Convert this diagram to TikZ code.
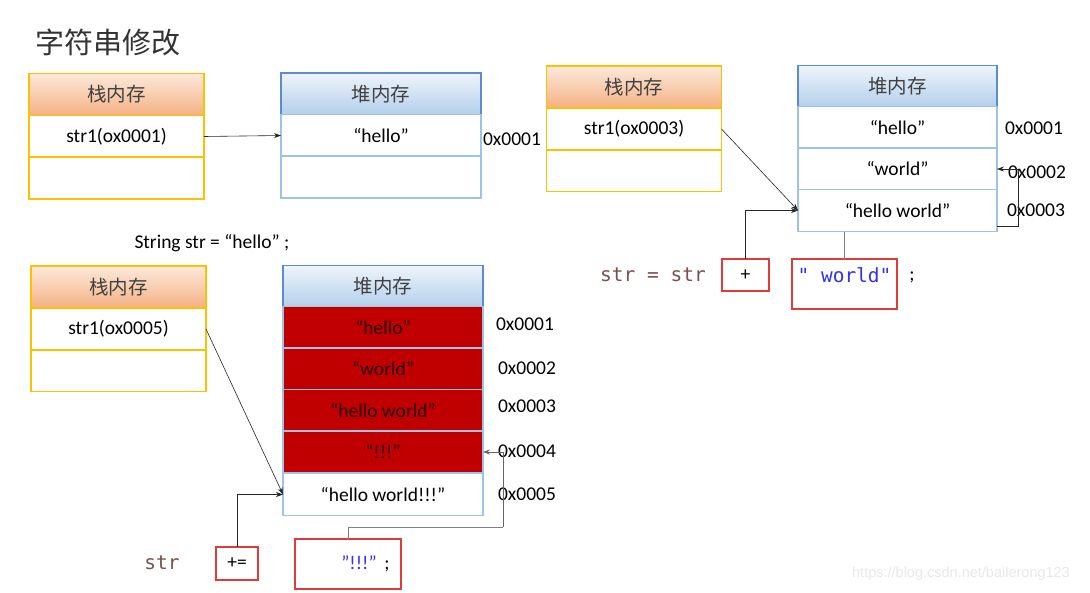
\documentclass[tikz,border=0pt]{standalone}
\usepackage{fontspec}
\setmainfont{Carlito}
\newfontfamily\cjk{Noto Sans CJK SC}
\newfontfamily\monof{DejaVu Sans Mono}
\newfontfamily\wmf{Liberation Sans}
\usetikzlibrary{arrows.meta}
\definecolor{stkc}{HTML}{FFC000}
\definecolor{stktop}{HTML}{FCE9DC}
\definecolor{stkbot}{HTML}{F4B183}
\definecolor{heapc}{HTML}{9DC3E6}
\definecolor{heaphc}{HTML}{5B8BD0}
\definecolor{heaptop}{HTML}{EEF4FB}
\definecolor{heapbot}{HTML}{B3CFEB}
\definecolor{rowred}{HTML}{C00000}
\definecolor{boxred}{HTML}{E23A3A}
\definecolor{codebrown}{RGB}{120,80,80}
\definecolor{codeblue}{RGB}{50,50,235}
\definecolor{hdtxt}{HTML}{404040}
\newcommand{\txt}{\fontsize{19.5}{23}\selectfont}
\newcommand{\hdf}{\cjk\fontsize{19.5}{23}\selectfont\color{hdtxt}}
\newcommand{\hd}[1]{\raisebox{-3pt}{#1}}
\tikzset{
  stk/.style={draw=stkc, line width=1.2pt, minimum width=175, minimum height=42, inner sep=0pt, outer sep=0pt, font=\txt},
  stkh/.style={stk, top color=stktop, bottom color=stkbot, font=\hdf},
  hp/.style={draw=heapc, line width=1.2pt, minimum width=200, minimum height=42, inner sep=0pt, outer sep=0pt, font=\txt, fill=white},
  hph/.style={hp, draw=heaphc, top color=heaptop, bottom color=heapbot, font=\hdf},
  redrow/.style={hp, fill=rowred, text=black!85!red},
  rbox/.style={draw=boxred, line width=1.2pt, inner sep=0pt, outer sep=0pt, font=\txt},
  addr/.style={font=\txt, inner sep=0pt},
  arr/.style={-{Stealth[length=7pt,width=5pt]}, line width=0.6pt, draw=black!85},
  gline/.style={line width=1pt, draw=black!50},
}
\begin{document}
\begin{tikzpicture}[x=1pt,y=-1pt]
\useasboundingbox[fill=white] (0,0) rectangle (1090,592);

% title
\node[font=\cjk\fontsize{29}{34}\selectfont, text=black!80] (title) at (108,42) {字符串修改};

% ---------- panel 1 ----------
\node[stkh] (s1h) at (116.5,94.5) {\hd{栈内存}};
\node[stk]  (s1r1) at (116.5,136.5) {str1(ox0001)};
\node[stk]  (s1r2) at (116.5,178) {};
\node[hph, minimum height=42] (h1h) at (381,94) {\hd{堆内存}};
\node[hp]  (h1r1) at (381,135.5) {“hello”};
\node[hp]  (h1r2) at (381,177) {};
\node[addr] (a11) at (512,139) {0x0001};
\draw[arr] (s1r1.east) -- (h1r1.west);

% ---------- panel 2 ----------
\node[stkh] (s2h) at (634,87) {\hd{栈内存}};
\node[stk]  (s2r1) at (634,129) {str1(ox0003)};
\node[stk]  (s2r2) at (634,170.5) {};
\node[hph, minimum width=199] (h2h) at (897.5,86.5) {\hd{堆内存}};
\node[hp, minimum width=199]  (h2r1) at (897.5,127.5) {“hello”};
\node[hp, minimum width=199]  (h2r2) at (897.5,169) {“world”};
\node[hp, minimum width=199]  (h2r3) at (897.5,210.5) {“hello world”};
\node[addr] (a21) at (1034,128) {0x0001};
\node[addr] (a22) at (1037,172) {0x0002};
\node[addr] (a23) at (1036,210) {0x0003};

\node[font=\monof\fontsize{19.5}{23}\selectfont, text=codebrown, inner sep=0pt] (c2a) at (653,275) {str = str};
\node[rbox, minimum width=47, minimum height=32] (plus) at (745.5,275) {+};
\node[rbox, minimum width=105, minimum height=50] (wbox) at (844.5,284) {};
\node[font=\monof\fontsize{19.5}{23}\selectfont, text=codeblue, inner sep=0pt] (wtxt) at (844.5,275) {"\ world"};
\node[font=\txt, inner sep=0pt] (semi2) at (912,277) {;};

\draw[arr] (s2r1.east) -- (h2r3.west);
\draw[arr] (plus.north) |- (h2r3.west);
\draw[arr] ([yshift=5pt]h2r3.south east) -- ++(21,0) |- (h2r2.east);
\draw[gline] (wbox.north) -- (wbox.north |- h2r3.south);

% ---------- panel 3 ----------
\node[font=\txt, inner sep=0pt] (code1) at (212,243) {String str = “hello” ;};
\node[stkh] (s3h) at (118.5,287) {\hd{栈内存}};
\node[stk]  (s3r1) at (118.5,329) {str1(ox0005)};
\node[stk]  (s3r2) at (118.5,370.5) {};
\node[hph] (h3h) at (383,286.5) {\hd{堆内存}};
\node[redrow] (h3r1) at (383,327.5) {“hello”};
\node[redrow] (h3r2) at (383,369) {“world”};
\node[redrow] (h3r3) at (383,410.5) {“hello world”};
\node[redrow] (h3r4) at (383,452) {“!!!”};
\node[hp]     (h3r5) at (383,494.5) {“hello world!!!”};
\node[addr] (a31) at (525,324) {0x0001};
\node[addr] (a32) at (527,368) {0x0002};
\node[addr] (a33) at (527,406) {0x0003};
\node[addr] (a34) at (527,451) {0x0004};
\node[addr] (a35) at (527,494) {0x0005};

\node[font=\monof\fontsize{19.5}{23}\selectfont, text=codebrown, inner sep=0pt] (c3a) at (162,563) {str};
\node[rbox, minimum width=42, minimum height=33] (pe) at (237,563.5) {+=};
\node[rbox, minimum width=106, minimum height=50] (ebox) at (348,564) {};
\node[font=\txt, text=codeblue, inner sep=0pt] (etxt) at (359,563) {"!!!"};
\node[font=\txt, inner sep=0pt] (semi3) at (387,566) {;};
\coordinate (k3) at (503,527);

\draw[arr] (s3r1.east) -- (h3r5.west);
\draw[arr] (pe.north) |- (h3r5.west);
\draw[gline] (ebox.north) |- (k3);
\draw[arr, draw=black!60] (k3) |- (h3r4.east);

% watermark
\node[font=\wmf\fontsize{14.5}{17}\selectfont, text=black!9, inner sep=0pt] (wm) at (961,574) {https://blog.csdn.net/bailerong123};
\end{tikzpicture}
\end{document}
